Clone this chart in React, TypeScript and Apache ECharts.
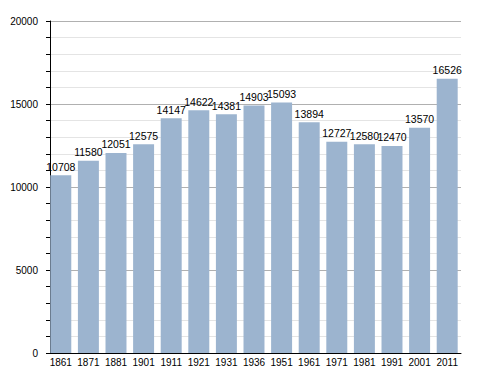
import React, { useEffect, useRef } from "react";
import * as echarts from "echarts";

const years = ["1861", "1871", "1881", "1901", "1911", "1921", "1931", "1936", "1951", "1961", "1971", "1981", "1991", "2001", "2011"];
const population = [10708, 11580, 12051, 12575, 14147, 14622, 14381, 14903, 15093, 13894, 12727, 12580, 12470, 13570, 16526];

export default function App() {
  const ref = useRef<HTMLDivElement>(null);
  useEffect(() => {
    const chart = echarts.init(ref.current!, null, { renderer: "svg" });
    chart.setOption({
      animation: false,
      textStyle: { fontFamily: "Liberation Sans" },
      grid: { left: 47, right: 27, top: 21, bottom: 20 },
      xAxis: {
        type: "category",
        data: years,
        axisLine: { lineStyle: { color: "#000", width: 1 } },
        axisTick: { show: false },
        axisLabel: { color: "#000", fontSize: 10, margin: 4, interval: 0 },
      },
      yAxis: {
        type: "value",
        min: 0,
        max: 20000,
        interval: 5000,
        offset: -3,
        axisLine: { show: true, lineStyle: { color: "#000" } },
        axisTick: { show: true, length: 4, lineStyle: { color: "#000" } },
        minorTick: { show: true, splitNumber: 5, length: 4, lineStyle: { color: "#000" } },
        splitLine: { show: true, lineStyle: { color: "#b0b0b0" } },
        minorSplitLine: { show: true, lineStyle: { color: "#e4e4e4" } },
        axisLabel: { color: "#000", fontSize: 10, margin: 12, formatter: (v: number) => String(v) },
      },
      series: [
        {
          type: "bar",
          data: population,
          barCategoryGap: "24%",
          itemStyle: { color: "#9cb4cf" },
          label: { show: true, position: "top", color: "#000", fontSize: 10.5, distance: 3 },
        },
      ],
    });
    return () => chart.dispose();
  }, []);
  return <div ref={ref} style={{ width: 488, height: 373, position: "absolute", left: 0, top: 0 }} />;
}
